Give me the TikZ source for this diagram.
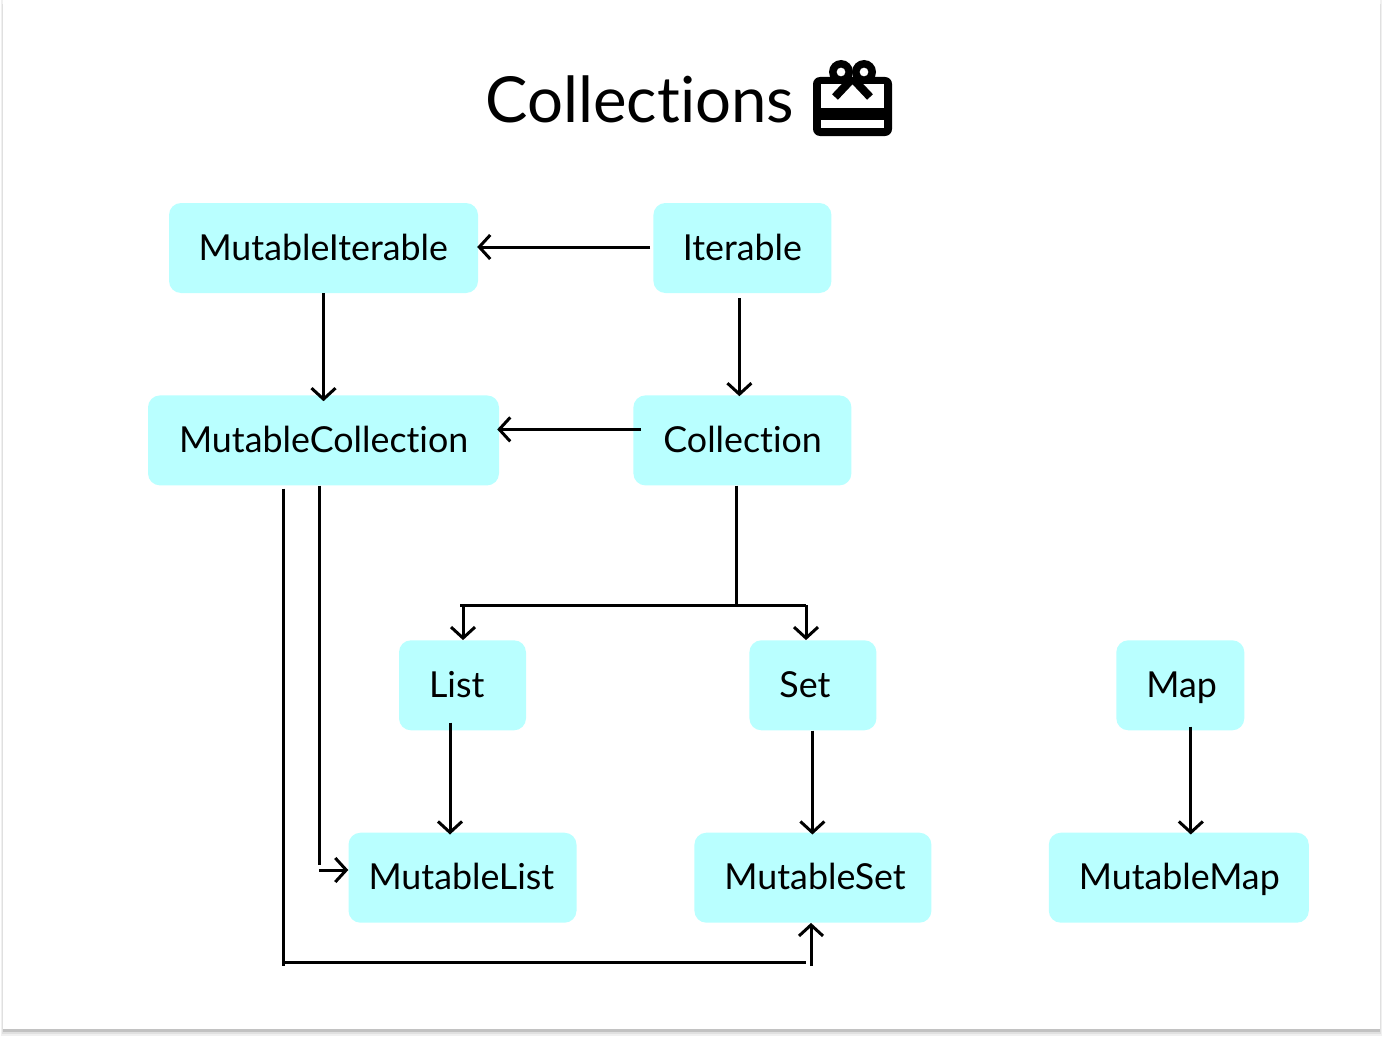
\documentclass[tikz,border=0pt]{standalone}
\usepackage{fontspec}
\usepackage{tikz}
\usetikzlibrary{positioning,arrows.meta,calc}
\setmainfont[RawFeature={-liga}]{Lato}
\definecolor{BoxCyan}{HTML}{B9FFFF}
\newcommand{\boxfont}{\fontsize{35.8}{42}\selectfont\hyphenpenalty=10000 }
\begin{document}
\begin{tikzpicture}[
        x=1pt, y=1pt,
        box/.style 2 args={
            fill=BoxCyan,
            rounded corners=12pt,
            align=left,
            font=\boxfont,
            text width=#1pt-2*#2pt,
            inner xsep=#2pt,
            inner ysep=0pt,
            text height=24pt,
            text depth=0pt,
            minimum height=90pt
        },
        arr/.style={-{Straight Barb[length=11pt,width=24pt]}, line width=3pt, black},
        wire/.style={line width=3pt, black},
        gift/.style={line width=8pt, black}
    ]
        \useasboundingbox (0,0) rectangle (1383,-1038);
        \fill[black!6] (1,2) rectangle (1382,-1036);
        \fill[black!12] (2,-4) rectangle (1381,-1034);
        \fill[black!24] (3,-10) rectangle (1380,-1032);
        \fill[white] (3,0) rectangle (1380,-1029);

        \node[font=\fontsize{63.5}{70}\selectfont, anchor=base west] (title) at (482,-123) {Collections};

        \fill[black, rounded corners=7pt] (813,-77) rectangle (892,-136);
        \fill[white] (821,-84) rectangle (884,-108);
        \fill[white] (821,-120) rectangle (884,-128);
        \draw[gift] (852,-79) -- (835,-97);
        \draw[gift] (853,-79) -- (870,-97);
        \fill[black, even odd rule] (841,-72) circle (12) (841,-72) circle (4.5);
        \fill[black, even odd rule] (864,-72) circle (12) (864,-72) circle (4.5);

        \node[box={309}{29.5}] (mutableiterable) at (323.5,-248) {MutableIterable};
        \node[box={178}{29.5}, right=175pt of mutableiterable] (iterable) {Iterable};
        \node[box={351}{31}, below=102pt of mutableiterable] (mutablecollection) {MutableCollection};
        \node[box={218}{30}, below=102pt of iterable] (collection) {Collection};
        \node[box={127}{30}, below=154.5pt of mutablecollection, xshift=139pt] (list) {List};
        \node[box={127}{30}, right=223pt of list] (set) {Set};
        \node[box={128}{30}, right=239.5pt of set] (map) {Map};
        \node[box={228}{20}, below=102pt of list] (mutablelist) {MutableList};
        \node[box={237}{30}, below=102pt of set] (mutableset) {MutableSet};
        \node[box={260}{30}, below=102pt of map, xshift=-1.5pt] (mutablemap) {MutableMap};

        \coordinate (branch) at ([xshift=-5.5pt]collection.south |- 0,-605);
        \coordinate (branchleft) at (460,-605);
        \coordinate (branchright) at (806,-605);
        \coordinate (elbowlist) at (319,-865);
        \coordinate (startlist) at (319,-870);
        \coordinate (elbowset) at (283.5,-966);
        \coordinate (cornerset) at (283.5,-962.5);
        \coordinate (endset) at (806,-962.5);
        \coordinate (startset) at (811,-966);

        \draw[arr] ([shift={(-3,1)}]iterable.west) -- ([shift={(-1,1)}]mutableiterable.east);
        \draw[arr] ([shift={(-3,-5)}]iterable.south) -- ([shift={(-3,-1)}]collection.north);
        \draw[arr] (mutableiterable.south) -- ([shift={(0,-6)}]mutablecollection.north);
        \draw[arr] ([shift={(8,11)}]collection.west) -- ([shift={(-2,11)}]mutablecollection.east);
        \draw[wire] ([xshift=-5.5pt]collection.south) -- (branch);
        \draw[wire] (branchleft) -- (branchright);
        \draw[arr] (branchleft -| list.north) ++(0.5,0) -- ([shift={(0.5,0)}]list.north);
        \draw[arr] (branchright) -- (branchright |- set.north);
        \draw[arr] ([shift={(-12.5,8)}]list.south) -- ([shift={(-12.5,-2)}]mutablelist.north);
        \draw[arr] ([xshift=-0.5pt]set.south) -- ([shift={(-0.5,-2)}]mutableset.north);
        \draw[arr] ([shift={(10.5,4)}]map.south) -- ([shift={(12,-2)}]mutablemap.north);
        \draw[wire] ([xshift=-4.5pt]mutablecollection.south) -- (elbowlist);
        \draw[arr] (startlist) -- (mutablelist.west |- startlist);
        \draw[wire] ([xshift=-40pt,yshift=-3pt]mutablecollection.south) -- (elbowset);
        \draw[wire] (cornerset) -- (endset);
        \draw[arr] (startset) -- (startset |- mutableset.south);
    \end{tikzpicture}
\end{document}
